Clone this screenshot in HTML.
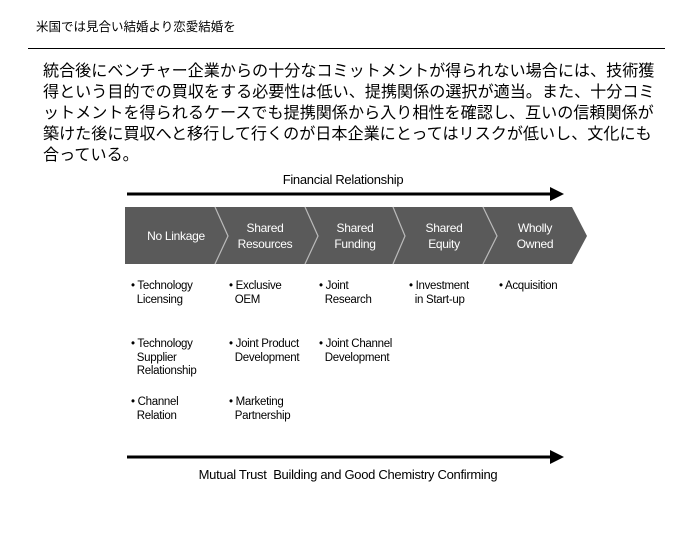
<!DOCTYPE html>
<html><head><meta charset="utf-8"><style>
body{margin:0;width:700px;height:560px;background:#fff;position:relative;font-family:"Liberation Sans","Noto Sans CJK JP",sans-serif;color:#000;overflow:hidden}
.a{position:absolute;white-space:nowrap}
.h{left:36px;top:16px;font-size:12.5px}
.p{left:43px;top:61px;font-size:16.1px;line-height:21px}
.b{font-size:11.5px;line-height:13.5px;letter-spacing:-0.3px}
</style></head><body>
<div class="a h">米国では見合い結婚より恋愛結婚を</div>
<div class="a" style="left:28px;top:48px;width:637px;height:1px;background:#000"></div>
<div class="a p">統合後にベンチャー企業からの十分なコミットメントが得られない場合には、技術獲<br>得という目的での買収をする必要性は低い、提携関係の選択が適当。また、十分コミ<br>ットメントを得られるケースでも提携関係から入り相性を確認し、互いの信頼関係が<br>築けた後に買収へと移行して行くのが日本企業にとってはリスクが低いし、文化にも<br>合っている。</div>
<svg class="a" style="left:0;top:0" width="700" height="560">
<line x1="127" y1="194" x2="552" y2="194" stroke="#000" stroke-width="3"/>
<polygon points="550,187 564,194 550,201" fill="#000"/>
<line x1="127" y1="457" x2="552" y2="457" stroke="#000" stroke-width="3"/>
<polygon points="550,450 564,457 550,464" fill="#000"/>
<polygon points="125,207 572,207 587,236 572,264 125,264" fill="#5a5a5a"/>
<g stroke="#bbb" stroke-width="1.2" fill="none">
<polyline points="215,207 228,236 215,264"/>
<polyline points="305,207 318,236 305,264"/>
<polyline points="393,207 405,236 393,264"/>
<polyline points="483,207 497,236 483,264"/>
</g>
<g fill="#fff" font-family="Liberation Sans,sans-serif" font-size="12" text-anchor="middle" letter-spacing="-0.3">
<text x="176" y="240">No Linkage</text>
<text x="265" y="232">Shared</text><text x="265" y="248">Resources</text>
<text x="355" y="232">Shared</text><text x="355" y="248">Funding</text>
<text x="444" y="232">Shared</text><text x="444" y="248">Equity</text>
<text x="535" y="232">Wholly</text><text x="535" y="248">Owned</text>
</g>
<text x="343" y="184" font-family="Liberation Sans,sans-serif" font-size="13" text-anchor="middle" letter-spacing="-0.3">Financial Relationship</text>
<text x="348" y="479" font-family="Liberation Sans,sans-serif" font-size="13" text-anchor="middle" letter-spacing="-0.3" xml:space="preserve">Mutual Trust  Building and Good Chemistry Confirming</text>
</svg>
<div class="a b" style="left:131px;top:280px">• Technology<br>&nbsp;&nbsp;Licensing</div>
<div class="a b" style="left:131px;top:338px">• Technology<br>&nbsp;&nbsp;Supplier<br>&nbsp;&nbsp;Relationship</div>
<div class="a b" style="left:131px;top:396px">• Channel<br>&nbsp;&nbsp;Relation</div>
<div class="a b" style="left:229px;top:280px">• Exclusive<br>&nbsp;&nbsp;OEM</div>
<div class="a b" style="left:229px;top:338px">• Joint Product<br>&nbsp;&nbsp;Development</div>
<div class="a b" style="left:229px;top:396px">• Marketing<br>&nbsp;&nbsp;Partnership</div>
<div class="a b" style="left:319px;top:280px">• Joint<br>&nbsp;&nbsp;Research</div>
<div class="a b" style="left:319px;top:338px">• Joint Channel<br>&nbsp;&nbsp;Development</div>
<div class="a b" style="left:409px;top:280px">• Investment<br>&nbsp;&nbsp;in Start-up</div>
<div class="a b" style="left:499px;top:280px">• Acquisition</div>
</body></html>
